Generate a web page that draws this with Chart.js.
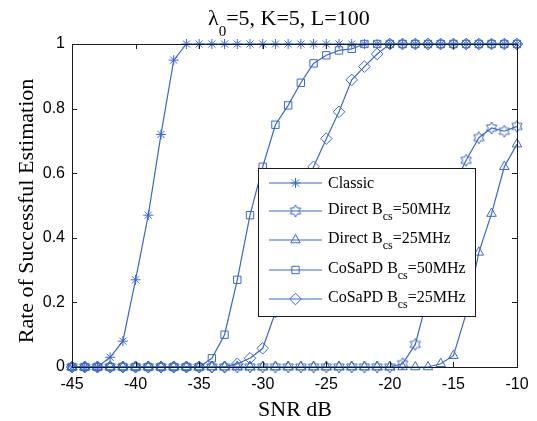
<!DOCTYPE html>
<html>
<head>
<meta charset="utf-8">
<script src="https://cdn.jsdelivr.net/npm/chart.js@4.4.1/dist/chart.umd.min.js"></script>
<style>
  html, body { margin: 0; padding: 0; background: #ffffff; }
  #wrap { width: 537px; height: 421px; position: relative; }
</style>
</head>
<body>
<div id="wrap"><canvas id="c" width="537" height="421"></canvas></div>
<script>
// ---------- data ----------
const snr = [-45,-44,-43,-42,-41,-40,-39,-38,-37,-36,-35,-34,-33,-32,-31,-30,-29,-28,-27,-26,-25,-24,-23,-22,-21,-20,-19,-18,-17,-16,-15,-14,-13,-12,-11,-10];
const classic = [0,0,0,0.03,0.08,0.27,0.47,0.72,0.95,1,1,1,1,1,1,1,1,1,1,1,1,1,1,1,1,1,1,1,1,1,1,1,1,1,1,1];
const direct50 = [0,0,0,0,0,0,0,0,0,0,0,0,0,0,0,0,0,0,0,0,0,0,0,0,0,0,0.01,0.07,0.22,0.40,0.56,0.64,0.71,0.74,0.73,0.745];
const direct25 = [0,0,0,0,0,0,0,0,0,0,0,0,0,0,0,0,0,0,0,0,0,0,0,0,0,0,0,0,0,0.01,0.035,0.165,0.355,0.475,0.62,0.69];
const cosapd50 = [0,0,0,0,0,0,0,0,0,0,0,0.027,0.1,0.27,0.47,0.62,0.75,0.81,0.88,0.94,0.965,0.98,0.985,1,1,1,1,1,1,1,1,1,1,1,1,1];
const cosapd25 = [0,0,0,0,0,0,0,0,0,0,0,0,0,0.01,0.027,0.058,0.17,0.32,0.48,0.62,0.707,0.79,0.889,0.93,0.969,1,1,1,1,1,1,1,1,1,1,1];
const xTicks = [-45,-40,-35,-30,-25,-20,-15,-10];
const yTicks = [0,0.2,0.4,0.6,0.8,1];
const seriesNames = ['Classic','Direct B','Direct B','CoSaPD B','CoSaPD B'];
const seriesSubs = ['','cs','cs','cs','cs'];
const seriesTails = ['','=50MHz','=25MHz','=50MHz','=25MHz'];

const BLUE = '#3a68c8';

// hexagram marker as canvas
function makeHexagram(R) {
  const s = Math.ceil(R * 2 + 4);
  const cv = document.createElement('canvas');
  cv.width = s; cv.height = s;
  const g = cv.getContext('2d');
  g.strokeStyle = BLUE; g.lineWidth = 1;
  g.beginPath();
  const r2 = R / Math.sqrt(3);
  for (let i = 0; i < 12; i++) {
    const a = -Math.PI / 2 + i * Math.PI / 6;
    const rr = (i % 2 === 0) ? R : r2;
    const px = s / 2 + rr * Math.cos(a), py = s / 2 + rr * Math.sin(a);
    if (i === 0) g.moveTo(px, py); else g.lineTo(px, py);
  }
  g.closePath(); g.stroke();
  return cv;
}
const hexa = makeHexagram(6);

const seriesData = [classic, direct50, direct25, cosapd50, cosapd25];
const styles = ['star', hexa, 'triangle', 'rect', 'rectRot'];
const radii = [5, 6, 5.5, 5.2, 5.8];

const datasets = seriesData.map((arr, i) => ({
  label: seriesNames[i] + seriesSubs[i] + seriesTails[i],
  data: snr.map((x, k) => ({x: x, y: arr[k]})),
  borderColor: BLUE,
  backgroundColor: 'rgba(0,0,0,0)',
  borderWidth: 1.2,
  pointStyle: styles[i],
  pointRadius: radii[i],
  pointBorderColor: BLUE,
  pointBackgroundColor: 'rgba(0,0,0,0)',
  pointBorderWidth: 1,
  tension: 0,
  clip: false
}));

const decor = {
  id: 'decor',
  afterDatasetsDraw(chart) {
    const ctx = chart.ctx;
    const a = chart.chartArea;
    const xs = chart.scales.x, ys = chart.scales.y;
    ctx.save();
    ctx.strokeStyle = '#1a1a1a';
    ctx.lineWidth = 1;
    ctx.strokeRect(Math.round(a.left) + 0.5, Math.round(a.top) + 0.5, Math.round(a.right - a.left), Math.round(a.bottom - a.top));
    const tl = 5;
    ctx.beginPath();
    xTicks.forEach(v => {
      const px = Math.round(xs.getPixelForValue(v)) + 0.5;
      ctx.moveTo(px, a.bottom); ctx.lineTo(px, a.bottom - tl);
      ctx.moveTo(px, a.top); ctx.lineTo(px, a.top + tl);
    });
    yTicks.forEach(v => {
      const py = Math.round(ys.getPixelForValue(v)) + 0.5;
      ctx.moveTo(a.left, py); ctx.lineTo(a.left + tl, py);
      ctx.moveTo(a.right, py); ctx.lineTo(a.right - tl, py);
    });
    ctx.stroke();
    ctx.restore();
  },
  afterDraw(chart) {
    const ctx = chart.ctx;
    ctx.save();
    ctx.fillStyle = '#000';
    // title
    const serif = '"Liberation Serif", "Times New Roman", serif';
    ctx.textBaseline = 'alphabetic';
    ctx.textAlign = 'left';
    let x = 208;
    ctx.font = '22px ' + serif;
    ctx.fillText('\u03bb', x, 25);
    x += ctx.measureText('\u03bb').width;
    ctx.font = '15px ' + serif;
    ctx.fillText('0', x, 36);
    x += ctx.measureText('0').width;
    ctx.font = '22px ' + serif;
    ctx.fillText('=5, K=5, L=100', x, 25);
    // axis titles
    ctx.font = '22px ' + serif;
    ctx.textAlign = 'center';
    ctx.fillText('SNR dB', 295, 416);
    ctx.save();
    ctx.translate(33, 211);
    ctx.rotate(-Math.PI / 2);
    ctx.fillText('Rate of Successful Estimation', 0, 0);
    ctx.restore();
    // legend
    const L = 258.5, T = 168.5, W = 217, H = 148;
    ctx.fillStyle = '#ffffff';
    ctx.fillRect(L, T, W, H);
    ctx.strokeStyle = '#1a1a1a';
    ctx.lineWidth = 1;
    ctx.strokeRect(L, T, W, H);
    const rowsY = [183, 211, 240, 270, 299];
    rowsY.forEach((ry, i) => {
      ctx.strokeStyle = BLUE;
      ctx.lineWidth = 1.2;
      ctx.beginPath();
      ctx.moveTo(269, ry); ctx.lineTo(322, ry);
      ctx.stroke();
      const st = styles[i];
      if (Chart.helpers && Chart.helpers.drawPoint) {
        ctx.fillStyle = 'rgba(0,0,0,0)';
        ctx.strokeStyle = BLUE;
        ctx.lineWidth = 1;
        Chart.helpers.drawPoint(ctx, {pointStyle: st, radius: radii[i], borderWidth: 1, rotation: 0}, 295.5, ry);
      }
      ctx.fillStyle = '#000';
      ctx.textAlign = 'left';
      ctx.font = '16px ' + serif;
      let tx = 328;
      const base = seriesSubs[i] ? ry + 2.5 : ry + 5;
      ctx.fillText(seriesNames[i], tx, base);
      tx += ctx.measureText(seriesNames[i]).width;
      if (seriesSubs[i]) {
        ctx.font = '12px ' + serif;
        ctx.fillText(seriesSubs[i], tx, base + 6);
        tx += ctx.measureText(seriesSubs[i]).width;
        ctx.font = '16px ' + serif;
        ctx.fillText(seriesTails[i], tx, base);
      }
    });
    ctx.restore();
  }
};

new Chart(document.getElementById('c'), {
  type: 'line',
  data: { datasets: datasets },
  options: {
    responsive: false,
    animation: false,
    devicePixelRatio: 1,
    layout: { padding: { top: 44, right: 20, left: 0, bottom: 0 } },
    plugins: { legend: { display: false }, title: { display: false }, tooltip: { enabled: false } },
    scales: {
      x: {
        type: 'linear', min: -45, max: -10,
        afterFit(s) { s.height = 54; },
        afterBuildTicks(s) { s.ticks = xTicks.map(v => ({value: v})); },
        grid: { display: false, drawTicks: false },
        border: { display: false },
        ticks: { padding: 8, color: '#000', maxRotation: 0, autoSkip: false,
          font: { family: '"Liberation Sans", Arial, sans-serif', size: 16 },
          callback: v => String(v) }
      },
      y: {
        type: 'linear', min: 0, max: 1,
        afterFit(s) { s.width = 72; },
        afterBuildTicks(s) { s.ticks = yTicks.map(v => ({value: v})); },
        grid: { display: false, drawTicks: false },
        border: { display: false },
        ticks: { padding: 7, color: '#000', autoSkip: false,
          font: { family: '"Liberation Sans", Arial, sans-serif', size: 16 },
          callback: v => String(+Number(v).toFixed(1)) }
      }
    }
  },
  plugins: [decor]
});
</script>
</body>
</html>
